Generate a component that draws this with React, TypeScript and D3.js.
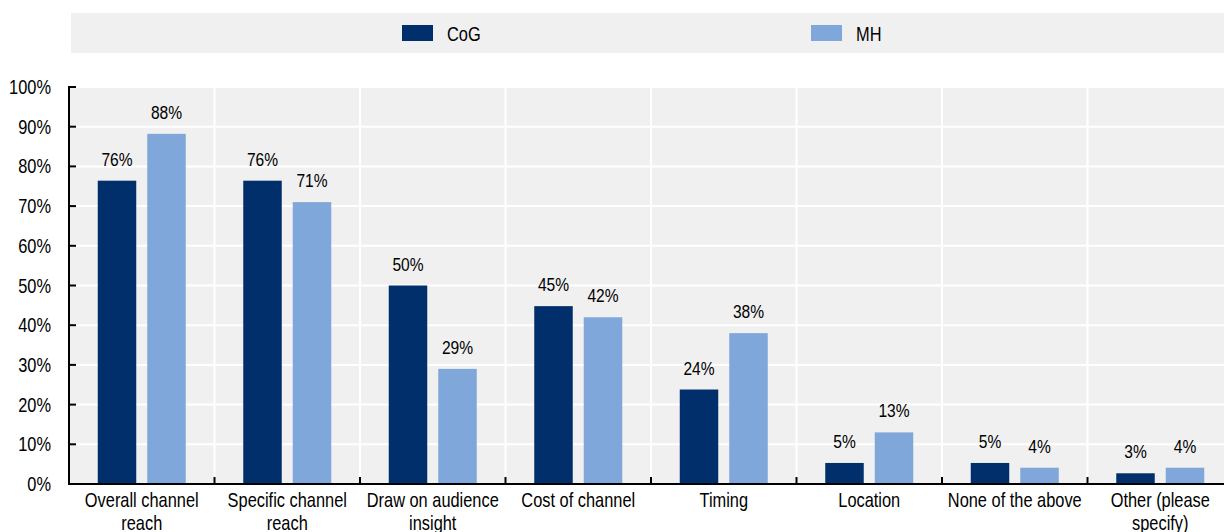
import React from "react";
import * as d3 from "d3";

const categories: string[][] = [
  ["Overall channel", "reach"],
  ["Specific channel", "reach"],
  ["Draw on audience", "insight"],
  ["Cost of channel"],
  ["Timing"],
  ["Location"],
  ["None of the above"],
  ["Other (please", "specify)"],
];
const cogValues = [76.4, 76.4, 50, 44.8, 23.8, 5.3, 5.3, 2.7];
const mhValues = [88.2, 71, 29, 42, 38, 13, 4.1, 4.1];
const yTicks = [0, 10, 20, 30, 40, 50, 60, 70, 80, 90, 100];
const seriesNames = ["CoG", "MH"];
const colors = ["#002F6C", "#7FA7D9"];

const W = 1224;
const H = 532;
const left = 69;
const right = 1233;
const top = 87;
const bottom = 484;
const font = "'Liberation Sans', Arial, sans-serif";
const NARROW = 0.82;

function NText(props: {
  x: number;
  y: number;
  size: number;
  anchor?: "start" | "middle" | "end";
  dy?: string;
  lines: string[];
  lineHeight?: number;
}) {
  const { x, y, size, anchor = "start", dy, lines, lineHeight = 23 } = props;
  return (
    <text
      transform={`translate(${x},${y}) scale(${NARROW},1)`}
      textAnchor={anchor}
      fontSize={size}
      fill="#000"
      dy={dy}
    >
      {lines.map((l, j) => (
        <tspan key={j} x={0} y={j * lineHeight} dy={dy}>
          {l}
        </tspan>
      ))}
    </text>
  );
}

export default function App() {
  const x = d3
    .scaleBand<number>()
    .domain(d3.range(categories.length))
    .range([left, right]);
  const y = d3.scaleLinear().domain([0, 100]).range([bottom, top]);
  const bw = 38.5;
  const off = 24.75;
  const series = [cogValues, mhValues];

  return (
    <svg
      width={W}
      height={H}
      style={{ position: "absolute", left: 0, top: 0, fontFamily: font }}
    >
      {/* legend */}
      <rect x={71} y={13} width={W - 71} height={40} fill="#f0f0f0" />
      {seriesNames.map((n, i) => {
        const lx = i === 0 ? 402 : 811;
        return (
          <g key={n}>
            <rect x={lx} y={25} width={31} height={16} fill={colors[i]} />
            <NText x={lx + 45} y={41} size={20} lines={[n]} />
          </g>
        );
      })}

      {/* plot background */}
      <rect x={left} y={top} width={right - left} height={bottom - top} fill="#f0f0f0" />
      {yTicks.map((t) => (
        <line
          key={"g" + t}
          x1={left}
          x2={right}
          y1={y(t)}
          y2={y(t)}
          stroke="#fff"
          strokeWidth={2}
        />
      ))}
      {d3.range(1, categories.length).map((i) => (
        <line
          key={"v" + i}
          x1={x(i)!}
          x2={x(i)!}
          y1={top}
          y2={bottom}
          stroke="#fff"
          strokeWidth={2}
        />
      ))}

      {/* bars */}
      {categories.map((_, i) => {
        const cx = x(i)! + x.bandwidth() / 2;
        return series.map((vals, s) => {
          const bx = cx + (s === 0 ? -off : off) - bw / 2;
          const v = vals[i];
          return (
            <g key={i + "-" + s}>
              <rect
                x={bx}
                y={y(v)}
                width={bw}
                height={bottom - y(v)}
                fill={colors[s]}
              />
              <NText
                x={bx + bw / 2}
                y={y(v) - 15}
                anchor="middle"
                size={19}
                lines={[Math.round(v) + "%"]}
              />
            </g>
          );
        });
      })}

      {/* axes */}
      <line x1={left} x2={left} y1={top - 1} y2={bottom} stroke="#000" strokeWidth={2} />
      <line x1={left - 1} x2={right} y1={bottom} y2={bottom} stroke="#000" strokeWidth={2} />
      {yTicks.map((t) => (
        <g key={"t" + t}>
          <line x1={left} x2={left + 7} y1={y(t)} y2={y(t)} stroke="#000" strokeWidth={2} />
          <NText x={51} y={y(t) + 7} anchor="end" size={20} lines={[t + "%"]} />
        </g>
      ))}
      {d3.range(1, categories.length).map((i) => (
        <line
          key={"xt" + i}
          x1={x(i)!}
          x2={x(i)!}
          y1={bottom - 7}
          y2={bottom}
          stroke="#000"
          strokeWidth={2}
        />
      ))}
      {categories.map((lines, i) => (
        <NText
          key={"c" + i}
          x={x(i)! + x.bandwidth() / 2}
          y={507}
          anchor="middle"
          size={20}
          lines={lines}
          lineHeight={23}
        />
      ))}
    </svg>
  );
}
